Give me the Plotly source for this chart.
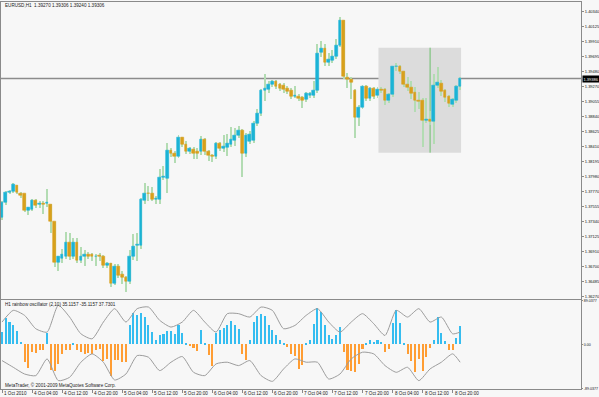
import plotly.graph_objects as go

# ---------------- data ----------------
bar_index = list(range(123))

opens = [1.37407,1.37621,1.37764,1.37778,1.37864,1.37750,1.37736,1.37507,1.37521,1.37650,
         1.37593,1.37607,1.37600,1.37593,1.37336,1.36764,1.36821,1.36850,1.37036,1.36836,
         1.37036,1.36793,1.36836,1.36878,1.36871,1.36836,1.36857,1.36836,1.36721,1.36750,
         1.36464,1.36707,1.36586,1.36543,1.36486,1.36836,1.36997,1.37000,1.37650,1.37743,
         1.37743,1.37664,1.37664,1.37978,1.37964,1.38364,1.38321,1.38278,1.38550,1.38450,
         1.38343,1.38371,1.38336,1.38336,1.38521,1.38343,1.38293,1.38278,1.38457,1.38393,
         1.38400,1.38450,1.38507,1.38571,1.38650,1.38321,1.38493,1.38507,1.38750,1.38893,
         1.39221,1.39236,1.39307,1.39350,1.39307,1.39293,1.39243,1.39221,1.39136,1.39136,
         1.39114,1.39093,1.39150,1.39150,1.39221,1.39754,1.39817,1.39611,1.39650,1.39697,
         1.39864,1.40221,1.39407,1.39378,1.39221,1.38836,1.38978,1.39268,1.39103,1.39246,
         1.39150,1.39231,1.39231,1.39068,1.39164,1.39554,1.39554,1.39483,1.39307,1.39254,
         1.39183,1.39078,1.39068,1.38783,1.38803,1.38768,1.39293,1.39317,1.39211,1.39126,
         1.39021,1.39078,1.39268]
highs = [1.37650,1.37793,1.37807,1.37907,1.37878,1.37778,1.37750,1.37564,1.37678,1.37678,
         1.37650,1.37636,1.37821,1.37607,1.37350,1.36864,1.36964,1.37207,1.37193,1.37121,
         1.37121,1.36993,1.36936,1.36921,1.36907,1.36893,1.36907,1.36878,1.36778,1.36764,
         1.36736,1.36736,1.36650,1.36578,1.36936,1.37178,1.37193,1.37693,1.37907,1.37864,
         1.37836,1.37721,1.38107,1.38150,1.38478,1.38407,1.38364,1.38593,1.38564,1.38507,
         1.38421,1.38421,1.38407,1.38578,1.38550,1.38378,1.38321,1.38493,1.38493,1.38593,
         1.38607,1.38707,1.38693,1.38721,1.38678,1.38621,1.38650,1.38793,1.38964,1.39250,
         1.39464,1.39364,1.39378,1.39378,1.39336,1.39336,1.39293,1.39264,1.39293,1.39178,
         1.39150,1.39207,1.39207,1.39364,1.39893,1.39926,1.39893,1.39754,1.39803,1.39960,
         1.40278,1.40231,1.39478,1.39421,1.39250,1.39021,1.39307,1.39307,1.39278,1.39278,
         1.39278,1.39278,1.39264,1.39193,1.39578,1.39611,1.39593,1.39507,1.39411,1.39354,
         1.39268,1.39197,1.39117,1.39121,1.38936,1.39460,1.39554,1.39374,1.39250,1.39164,
         1.39121,1.39307,1.39421]
lows = [1.37378,1.37593,1.37736,1.37764,1.37750,1.37693,1.37493,1.37450,1.37507,1.37550,
        1.37550,1.37464,1.37564,1.37193,1.36707,1.36650,1.36764,1.36821,1.36807,1.36821,
        1.36764,1.36764,1.36721,1.36821,1.36793,1.36721,1.36793,1.36693,1.36693,1.36421,
        1.36436,1.36550,1.36464,1.36336,1.36464,1.36807,1.36793,1.36964,1.37607,1.37650,
        1.37636,1.37607,1.37607,1.37936,1.37764,1.38278,1.38193,1.38264,1.38421,1.38321,
        1.38321,1.38250,1.38250,1.38307,1.38307,1.38221,1.38207,1.38250,1.38364,1.38336,
        1.38293,1.38421,1.38436,1.38550,1.37993,1.38278,1.38464,1.38478,1.38721,1.38864,
        1.39078,1.39193,1.39278,1.39250,1.39221,1.39193,1.39178,1.39107,1.39121,1.39078,
        1.38978,1.39064,1.39121,1.39121,1.39193,1.39697,1.39578,1.39578,1.39621,1.39678,
        1.39840,1.39393,1.39264,1.39107,1.38550,1.38721,1.38964,1.39078,1.39078,1.39107,
        1.39121,1.39193,1.39021,1.39050,1.39136,1.39507,1.39464,1.39278,1.39221,1.39103,
        1.38911,1.38960,1.38411,1.38764,1.38736,1.38460,1.39264,1.39150,1.39054,1.38993,
        1.38993,1.39050,1.39236]
closes = [1.37621,1.37764,1.37778,1.37878,1.37764,1.37721,1.37507,1.37536,1.37650,1.37578,
          1.37600,1.37593,1.37614,1.37336,1.36764,1.36836,1.36878,1.37050,1.36836,1.37036,
          1.36793,1.36850,1.36878,1.36850,1.36836,1.36850,1.36836,1.36721,1.36750,1.36464,
          1.36707,1.36578,1.36536,1.36486,1.36836,1.36993,1.37014,1.37657,1.37743,1.37736,
          1.37664,1.37674,1.37978,1.37993,1.38364,1.38321,1.38271,1.38550,1.38450,1.38350,
          1.38386,1.38321,1.38321,1.38521,1.38343,1.38293,1.38271,1.38457,1.38393,1.38411,
          1.38457,1.38521,1.38578,1.38650,1.38321,1.38578,1.38593,1.38750,1.38893,1.39221,
          1.39250,1.39307,1.39350,1.39278,1.39250,1.39236,1.39207,1.39136,1.39150,1.39107,
          1.39078,1.39171,1.39178,1.39221,1.39750,1.39817,1.39611,1.39660,1.39707,1.39864,
          1.40221,1.39411,1.39378,1.39336,1.38836,1.38978,1.39278,1.39103,1.39246,1.39136,
          1.39231,1.39214,1.39068,1.39164,1.39554,1.39564,1.39483,1.39307,1.39254,1.39174,
          1.39068,1.39064,1.38793,1.38803,1.38768,1.39293,1.39326,1.39197,1.39117,1.39031,
          1.39088,1.39268,1.39386]

osc_hist = [25,52,44,38,27,5,-36,-47,-16,-18,-12,-11,22,-51,-54,-40,-19,-11,-12,3,
            -12,-16,-19,-17,-20,-12,-9,-34,-29,-65,-32,-31,-36,-36,38,63,59,62,55,38,
            24,9,18,20,27,27,20,38,23,3,-4,-7,-13,28,3,-22,-44,22,28,32,
            38,47,38,30,-20,-31,8,45,57,61,57,38,28,18,9,3,-5,-19,-24,-49,
            -42,1,8,40,72,65,38,18,11,18,34,-16,-51,-53,-56,-40,-9,3,8,5,
            9,5,-16,-9,42,69,42,1,-19,-34,-56,-29,-54,-26,-7,9,54,23,7,-12,
            -11,13,37]

band_index = [0,3,6,9,12,15,18,21,24,27,30,33,36,39,42,45,48,51,54,57,60,63,66,69,72,75,78,
              81,84,87,90,93,96,99,102,105,108,111,114,117,120,122]
band_upper = [45.2,68.8,58.7,31.7,25.0,78.9,55.3,21.6,11.5,45.2,72.2,45.2,72.2,75.5,48.6,35.1,
              45.2,68.8,45.2,25.0,62.1,62.1,55.3,75.5,68.8,31.7,38.4,
              58.7,72.2,45.2,25.0,45.2,62.1,41.8,18.2,68.8,55.3,72.2,45.2,55.3,21.6,25.0]
band_lower = [-32.4,-45.9,-59.4,-62.7,-29.0,-72.8,-66.1,-35.7,-18.9,-35.7,-71.5,-59.4,-22.3,
              -25.6,-52.6,-35.7,-24.3,-56.0,-62.7,-39.1,-35.7,-42.5,-32.4,-62.7,-74.2,-49.2,-29.0,
              -35.7,-35.7,-69.5,-59.4,-29.0,-15.5,-18.9,-42.5,-56.0,-45.9,-72.8,-49.2,-35.7,-18.9,-35.7]

price_ticks = [1.40340,1.40125,1.39910,1.39695,1.39480,1.39270,1.39055,1.38840,1.38625,1.38410,
               1.38195,1.37980,1.37770,1.37555,1.37340,1.37125,1.36910,1.36700,1.36485,1.36270]
osc_ticks = [89.0377, 0.0, -89.0377]
osc_tick_text = ["89.0377", "0.00", "-89.0377"]

time_tick_index = [0,8,16,24,32,40,48,56,64,72,80,88,96,104,112,120]
time_tick_text = ["1 Oct 2010","4 Oct 04:00","4 Oct 12:00","4 Oct 20:00","5 Oct 04:00",
                  "5 Oct 12:00","5 Oct 20:00","6 Oct 04:00","6 Oct 12:00","6 Oct 20:00",
                  "7 Oct 04:00","7 Oct 12:00","7 Oct 20:00","8 Oct 04:00","8 Oct 12:00",
                  "8 Oct 20:00"]

current_price = 1.39386
box_index = [100.25, 122.25]
box_price = [1.38326, 1.39826]
vline_index = 114
header_text = "EURUSD,H1  1.39270 1.39306 1.39240 1.39306"
osc_title = "H1 rainbow oscillator (2,10) 35.1157 -35.1157 37.7301"
copyright_text = "MetaTrader, \u00a9 2001-2009 MetaQuotes Software Corp."

# ---------------- style ----------------
W, H = 599, 397
BG = "#f7f7f7"
BORDER = "#8a8a8a"
BULL = "#1bb4d6"
BEAR = "#d9a01c"
WICK = "#b3dcb3"
OSC_POS = "#35bdf0"
OSC_NEG = "#ff9d33"
BAND = "#9c9c9c"
FONT = "Liberation Sans"
FS = 4.6
FS_AX = 4.0
FS_OSC_AX = 3.6
TXT = "#222222"
TXT_AX = "#111111"

X_LO, X_HI = -0.27, 154.19
dom_x = [1.0 / W, 581.0 / W]
dom_main = [1 - 298.5 / H, 1 - 1.5 / H]
dom_osc = [1 - 388.7 / H, 1 - 300.3 / H]

body_base = [min(o, c) for o, c in zip(opens, closes)]
body_h = [abs(c - o) for o, c in zip(opens, closes)]
body_col = [BULL if c >= o else BEAR for o, c in zip(opens, closes)]
wick_h = [h - l for h, l in zip(highs, lows)]

fig = go.Figure()
fig.add_trace(go.Bar(x=bar_index, y=wick_h, base=lows, width=0.26,
                     marker=dict(color=WICK, line=dict(width=0)),
                     xaxis="x", yaxis="y", hoverinfo="skip", showlegend=False))
fig.add_trace(go.Bar(x=bar_index, y=body_h, base=body_base, width=0.72,
                     marker=dict(color=body_col, line=dict(color=body_col, width=0.6)),
                     xaxis="x", yaxis="y", showlegend=False))
fig.add_trace(go.Bar(x=bar_index, y=osc_hist, width=0.55,
                     marker=dict(color=[OSC_POS if v >= 0 else OSC_NEG for v in osc_hist],
                                 line=dict(width=0)),
                     xaxis="x2", yaxis="y2", showlegend=False))
fig.add_trace(go.Scatter(x=band_index, y=band_upper, mode="lines",
                         line=dict(color=BAND, width=1, shape="spline", smoothing=0.6),
                         xaxis="x2", yaxis="y2", showlegend=False))
fig.add_trace(go.Scatter(x=band_index, y=band_lower, mode="lines",
                         line=dict(color=BAND, width=1, shape="spline", smoothing=0.6),
                         xaxis="x2", yaxis="y2", showlegend=False))

axis_common = dict(showgrid=False, zeroline=False, showline=True, mirror=True,
                   linecolor=BORDER, linewidth=1, automargin=False)
fig.update_layout(
    width=W, height=H, margin=dict(l=0, r=0, t=0, b=0, autoexpand=False),
    paper_bgcolor=BG, plot_bgcolor=BG, barmode="overlay", bargap=0,
    showlegend=False,
    xaxis=dict(domain=dom_x, range=[X_LO, X_HI], anchor="y", showticklabels=False,
               ticks="", **axis_common),
    yaxis=dict(domain=dom_main, range=[1.36243, 1.40486], side="right", anchor="x",
               tickvals=price_ticks, ticktext=["%.5f" % v for v in price_ticks],
               ticks="outside", ticklen=2, tickcolor=BORDER, ticklabelstandoff=0,
               tickfont=dict(family=FONT, size=FS_AX, color=TXT_AX), **axis_common),
    xaxis2=dict(domain=dom_x, range=[X_LO, X_HI], anchor="y2", showticklabels=False,
                tickvals=time_tick_index, ticks="outside", ticklen=3, tickcolor=BORDER,
                **axis_common),
    yaxis2=dict(domain=dom_osc, range=[-89.0377, 89.0377], side="right", anchor="x2",
                tickvals=osc_ticks, ticktext=osc_tick_text, ticks="outside", ticklen=1,
                tickcolor=BORDER, ticklabelstandoff=0,
                tickfont=dict(family=FONT, size=FS_OSC_AX, color=TXT_AX),
                **axis_common),
)

shapes = [
    dict(type="rect", xref="x", yref="y", x0=box_index[0], x1=box_index[1],
         y0=box_price[0], y1=box_price[1], fillcolor="#dcdcdc", line=dict(width=0),
         layer="below"),
    dict(type="line", xref="x", yref="y", x0=vline_index, x1=vline_index,
         y0=box_price[0], y1=box_price[1], line=dict(color="#6cbf6c", width=1),
         layer="below"),
    dict(type="line", xref="paper", yref="y", x0=dom_x[0], x1=dom_x[1],
         y0=current_price, y1=current_price, line=dict(color="#8c8c8c", width=1.5),
         layer="below"),
]
fig.update_layout(shapes=shapes)

ann = [
    dict(xref="paper", yref="paper", x=3 / W, y=1 - 5.5 / H, text=header_text,
         xanchor="left", yanchor="middle", showarrow=False,
         font=dict(family=FONT, size=FS, color=TXT)),
    dict(xref="paper", yref="paper", x=3 / W, y=1 - 304 / H, text=osc_title,
         xanchor="left", yanchor="middle", showarrow=False,
         font=dict(family=FONT, size=FS, color=TXT)),
    dict(xref="paper", yref="paper", x=3 / W, y=1 - 385 / H, text=copyright_text,
         xanchor="left", yanchor="middle", showarrow=False,
         font=dict(family=FONT, size=FS, color=TXT)),
    dict(xref="paper", yref="y", x=582 / W, y=current_price,
         text="%.5f" % current_price, xanchor="left", yanchor="middle", showarrow=False,
         bgcolor="#000000", borderpad=0.5,
         font=dict(family=FONT, size=FS_AX, color="#ffffff")),
]
for idx, lab in zip(time_tick_index, time_tick_text):
    ann.append(dict(xref="x2", yref="paper", x=idx, y=1 - 393 / H, text=lab,
                    xanchor="left", yanchor="middle", showarrow=False, xshift=0,
                    font=dict(family=FONT, size=FS, color=TXT)))
fig.update_layout(annotations=ann)

fig.write_html("out.html")
